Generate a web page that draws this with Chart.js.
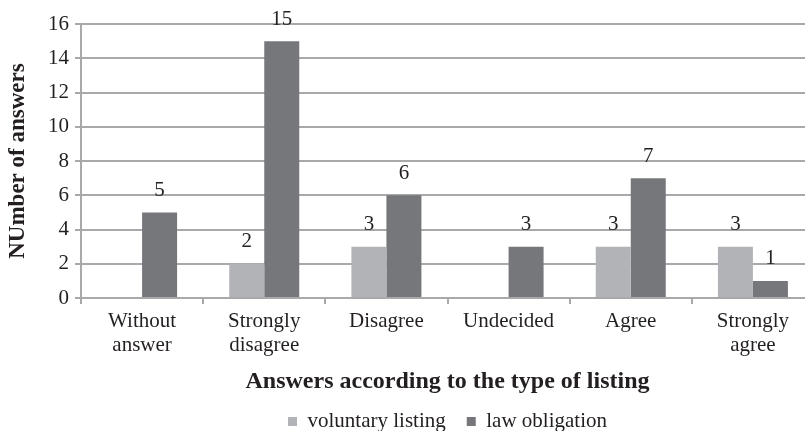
<!DOCTYPE html>
<html><head><meta charset="utf-8">
<script src="https://cdn.jsdelivr.net/npm/chart.js@4/dist/chart.umd.min.js"></script>
<style>html,body{margin:0;padding:0;background:#fff;overflow:hidden;width:805px;height:431px}canvas{display:block}</style>
</head><body>
<canvas id="c" width="816" height="431"></canvas>
<script>
const categories = [['Without','answer'],['Strongly','disagree'],'Disagree','Undecided','Agree',['Strongly','agree']];
const seriesNames = ['voluntary listing','law obligation'];
const voluntaryListing = [0,2,3,0,3,3];
const lawObligation = [5,15,6,3,7,1];
const yMin = 0, yMax = 16, yStep = 2;
const xTitle = 'Answers according to the type of listing';
const yTitle = 'NUmber of answers';

const FONT = '"Liberation Serif","Times New Roman",serif';
const TEXT = '#231f20';
const GRID = '#a9a9ac';

const valueLabels = {
  id: 'valueLabels',
  afterDatasetsDraw(chart) {
    const ctx = chart.ctx;
    ctx.save();
    ctx.font = '21px ' + FONT;
    ctx.fillStyle = TEXT;
    ctx.textAlign = 'center';
    ctx.textBaseline = 'middle';
    chart.data.datasets.forEach((ds, i) => {
      const meta = chart.getDatasetMeta(i);
      meta.data.forEach((bar, j) => {
        const v = ds.data[j];
        if (!v) return;
        ctx.fillText(String(v), bar.x, bar.y - 22);
      });
    });
    ctx.restore();
  }
};

new Chart(document.getElementById('c'), {
  type: 'bar',
  data: {
    labels: categories,
    datasets: [
      { label: seriesNames[0], data: voluntaryListing, backgroundColor: '#b2b3b6', borderWidth: 0 },
      { label: seriesNames[1], data: lawObligation, backgroundColor: '#76777b', borderWidth: 0 }
    ]
  },
  options: {
    responsive: false,
    animation: false,
    devicePixelRatio: 1,
    layout: { padding: { top: 24, left: 0, right: 2, bottom: 0 } },
    datasets: { bar: { categoryPercentage: 0.573, barPercentage: 1 } },
    plugins: {
      tooltip: { enabled: false },
      legend: {
        position: 'bottom',
        fullSize: false,
        maxHeight: 41,
        labels: {
          boxWidth: 9, boxHeight: 9, padding: 21,
          color: TEXT,
          font: { family: FONT, size: 21 }
        }
      }
    },
    scales: {
      x: {
        grid: { offset: true, drawOnChartArea: false, drawTicks: true, tickLength: 6, color: GRID, lineWidth: 2 },
        border: { color: GRID, width: 2 },
        ticks: { color: TEXT, padding: 5, maxRotation: 0, autoSkip: false, font: { family: FONT, size: 21, lineHeight: 1.15 } },
        title: { display: true, text: xTitle, color: TEXT, padding: { top: 6, bottom: -6 }, font: { family: FONT, size: 24, weight: 'bold', lineHeight: 1.15 } }
      },
      y: {
        min: yMin, max: yMax,
        afterFit(scale) { scale.width = 81; },
        grid: { color: GRID, lineWidth: 2, tickLength: 6 },
        border: { color: GRID, width: 2 },
        ticks: { stepSize: yStep, color: TEXT, padding: 6, font: { family: FONT, size: 21 } },
        title: { display: true, text: yTitle, color: TEXT, padding: { top: 4, bottom: 0 }, font: { family: FONT, size: 23, weight: 'bold', lineHeight: 1.2 } }
      }
    }
  },
  plugins: [valueLabels]
});
</script>
</body></html>
